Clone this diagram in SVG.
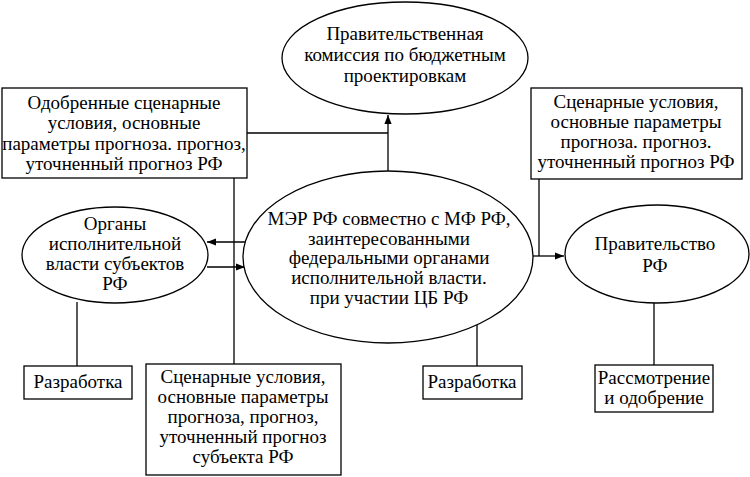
<svg xmlns="http://www.w3.org/2000/svg" width="750" height="477" viewBox="0 0 750 477">
<defs>
<style>
.s{fill:#fff;stroke:#000;stroke-width:1.3}
.c{fill:none;stroke:#000;stroke-width:1.3}
.t{font-family:'Liberation Serif','Times New Roman',serif;font-size:19px;fill:#000;text-anchor:middle}
</style>
<marker id="ah" viewBox="0 0 10 10" refX="10" refY="5" markerWidth="9" markerHeight="9" markerUnits="userSpaceOnUse" orient="auto">
<path d="M0,1 L10,5 L0,9 Z" fill="#000"/>
</marker>
</defs>
<rect width="750" height="477" fill="#fff"/>
<g id="connectors">
<path class="c" d="M247,133 H388"/>
<path class="c" d="M388,171 V115" marker-end="url(#ah)"/>
<path class="c" d="M234,178 V364"/>
<path class="c" d="M245,242 H207" marker-end="url(#ah)"/>
<path class="c" d="M207,267 H245" marker-end="url(#ah)"/>
<path class="c" d="M539,179 V256"/>
<path class="c" d="M533,256 H564" marker-end="url(#ah)"/>
<path class="c" d="M77,302 V366"/>
<path class="c" d="M477,325 V366"/>
<path class="c" d="M654,303 V365"/>
</g>
<g class="t">
<g id="n_commission">
<ellipse class="s" cx="405" cy="58" rx="123" ry="56"/>
<text x="405" y="40">Правительственная</text>
<text x="405" y="61">комиссия по бюджетным</text>
<text x="405" y="82">проектировкам</text>
</g>
<g id="n_approved">
<rect class="s" x="2" y="88" width="245" height="90"/>
<text x="124" y="109">Одобренные сценарные</text>
<text x="124" y="129">условия, основные</text>
<text x="124" y="150">параметры прогноза. прогноз,</text>
<text x="124" y="170">уточненный прогноз РФ</text>
</g>
<g id="n_scen_rf">
<rect class="s" x="531" y="88" width="211" height="91"/>
<text x="636" y="108">Сценарные условия,</text>
<text x="636" y="128">основные параметры</text>
<text x="636" y="148">прогноза. прогноз.</text>
<text x="636" y="168">уточненный прогноз РФ</text>
</g>
<g id="n_regions">
<ellipse class="s" cx="115" cy="255" rx="93" ry="48"/>
<text x="115" y="230">Органы</text>
<text x="115" y="250">исполнительной</text>
<text x="115" y="270">власти субъектов</text>
<text x="115" y="290">РФ</text>
</g>
<g id="n_mer">
<ellipse class="s" cx="388" cy="257" rx="145" ry="86"/>
<text x="389" y="225">МЭР РФ совместно с МФ РФ,</text>
<text x="389" y="245">заинтересованными</text>
<text x="389" y="264">федеральными органами</text>
<text x="389" y="284">исполнительной власти.</text>
<text x="389" y="304">при участии ЦБ РФ</text>
</g>
<g id="n_gov">
<ellipse class="s" cx="657" cy="254" rx="92" ry="49"/>
<text x="655" y="250">Правительство</text>
<text x="655" y="272">РФ</text>
</g>
<g id="n_dev1">
<rect class="s" x="24" y="366" width="108" height="33"/>
<text x="78" y="388">Разработка</text>
</g>
<g id="n_scen_subj">
<rect class="s" x="146" y="364" width="195" height="111"/>
<text x="243" y="383">Сценарные условия,</text>
<text x="243" y="403">основные параметры</text>
<text x="243" y="423">прогноза, прогноз,</text>
<text x="243" y="443">уточненный прогноз</text>
<text x="243" y="463">субъекта РФ</text>
</g>
<g id="n_dev2">
<rect class="s" x="423" y="366" width="99" height="33"/>
<text x="472" y="388">Разработка</text>
</g>
<g id="n_review">
<rect class="s" x="595" y="365" width="118" height="47"/>
<text x="654" y="384">Рассмотрение</text>
<text x="654" y="404">и одобрение</text>
</g>
</g>
</svg>
